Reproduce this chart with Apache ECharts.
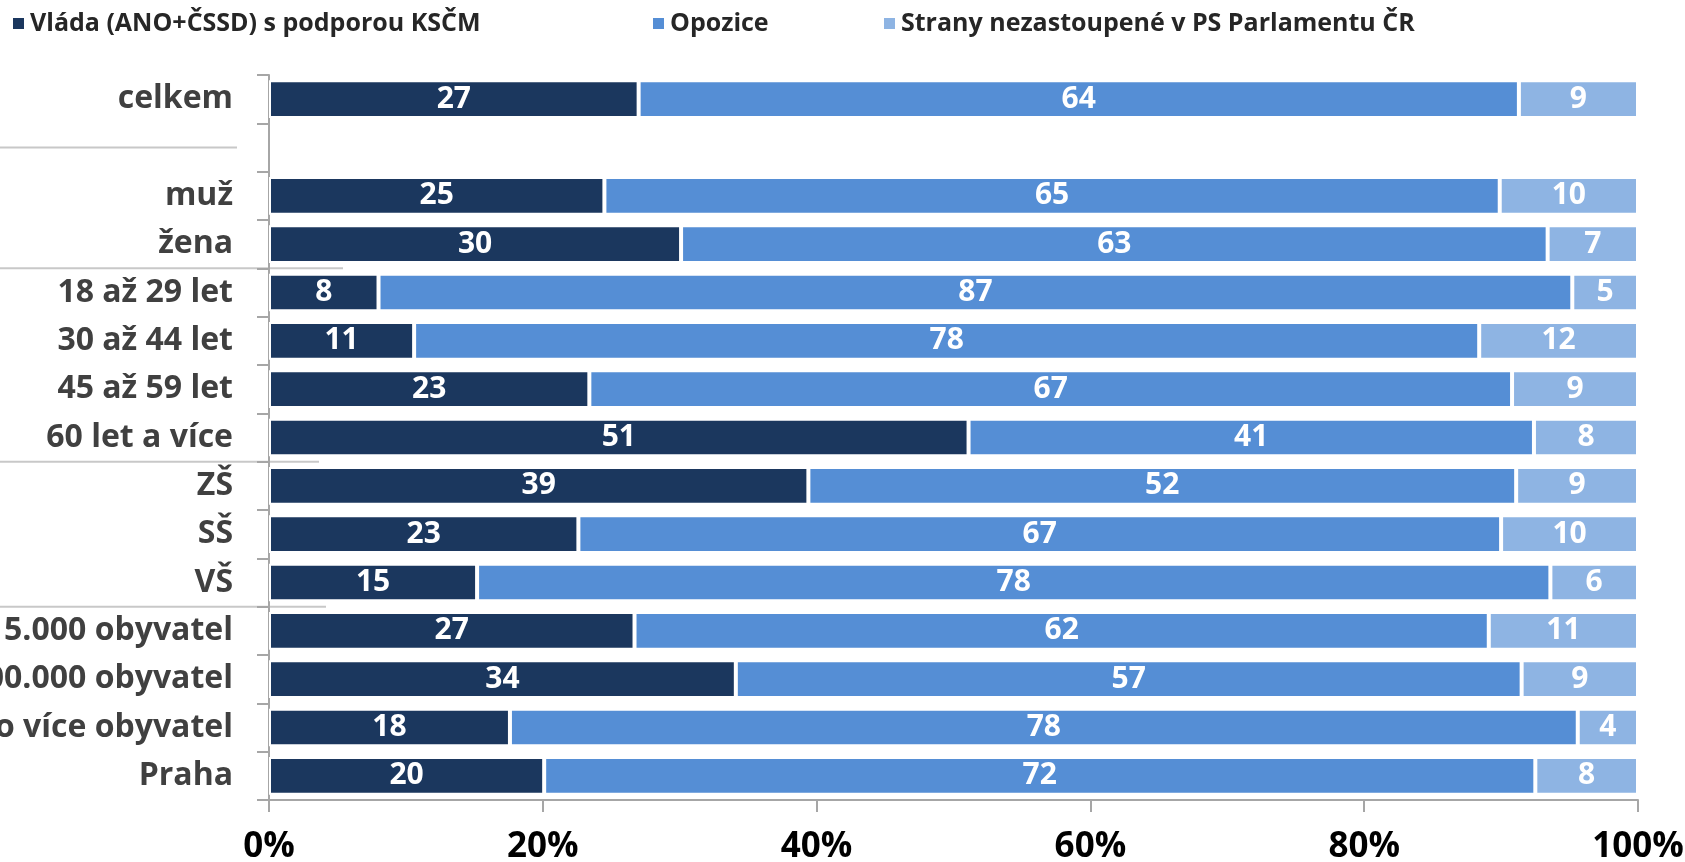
<!DOCTYPE html>
<html>
<head>
<meta charset="utf-8">
<script src="https://cdn.jsdelivr.net/npm/echarts@6/dist/echarts.min.js"></script>
<style>
html,body{margin:0;padding:0;background:#fff;}
#chart{width:1685px;height:862px;}
</style>
</head>
<body>
<div id="chart"></div>
<script>
// ---- data ----
var categories = ['celkem', '', 'muž', 'žena', '18 až 29 let', '30 až 44 let', '45 až 59 let', '60 let a více',
  'ZŠ', 'SŠ', 'VŠ', 'do 5.000 obyvatel', '5.000 až 100.000 obyvatel', '100.000 nebo více obyvatel', 'Praha'];
var seriesNames = ['Vláda (ANO+ČSSD) s podporou KSČM', 'Opozice', 'Strany nezastoupené v PS Parlamentu ČR'];
var vlada    = [27.0, null, 24.5, 30.1, 8.0, 10.6, 23.4, 51.1, 39.4, 22.6, 15.2, 26.7, 34.1, 17.6, 20.1];
var opozice  = [64.3, null, 65.4, 63.3, 87.2, 77.8, 67.4, 41.3, 51.7, 67.4, 78.4, 62.4, 57.4, 78.0, 72.4];
var ostatni  = [8.7, null, 10.1, 6.6, 4.8, 11.6, 9.2, 7.6, 8.9, 10.0, 6.4, 10.9, 8.5, 4.4, 7.5];
var xTicks = [0, 20, 40, 60, 80, 100];
// group separators: at category center or at boundary before category index
var separators = [
  {at: 1, mode: 'center', x2: 237},
  {at: 4, mode: 'boundary', x2: 343},
  {at: 8, mode: 'boundary', x2: 319},
  {at: 11, mode: 'boundary', x2: 326}
];

var colors = ['#1b375e', '#558ed5', '#8eb4e3'];
var FONT = '"Open Sans", "Noto Sans", sans-serif';

var chart = echarts.init(document.getElementById('chart'));

function mkSeries(name, data, color) {
  return {
    name: name,
    type: 'bar',
    stack: 'total',
    data: data,
    barCategoryGap: '22%',
    itemStyle: {color: color, borderColor: '#ffffff', borderWidth: 2},
    label: {
      show: true,
      position: 'inside',
      color: '#ffffff',
      fontFamily: FONT,
      fontWeight: 'bold',
      fontSize: 30,
      formatter: function (p) { return p.value == null ? '' : String(Math.round(p.value)); }
    },
    emphasis: {disabled: true}
  };
}

function mkLegend(i, left) {
  return {
    data: [seriesNames[i]],
    left: left,
    top: 11,
    itemWidth: 13,
    itemHeight: 13,
    icon: 'rect',
    padding: 0,
    itemGap: 10,
    textStyle: {fontFamily: FONT, fontWeight: 'bold', fontSize: 25, color: '#262626'}
  };
}

var option = {
  animation: false,
  backgroundColor: '#ffffff',
  legend: [mkLegend(0, 11), mkLegend(1, 651), mkLegend(2, 882)],
  grid: {left: 269, right: 47, top: 75, bottom: 62, containLabel: false, outerBoundsMode: 'none'},
  xAxis: {
    type: 'value',
    min: 0,
    max: 100,
    interval: 20,
    axisLine: {show: true, lineStyle: {color: '#a6a6a6', width: 2}},
    axisTick: {show: true, length: 12, lineStyle: {color: '#a6a6a6', width: 2}},
    splitLine: {show: false},
    axisLabel: {
      margin: 30,
      color: '#000000',
      fontFamily: FONT,
      fontWeight: 'bold',
      fontSize: 35,
      formatter: function (v) { return xTicks.indexOf(v) >= 0 ? v + '%' : ''; }
    }
  },
  yAxis: {
    type: 'category',
    data: categories,
    inverse: true,
    axisLine: {show: true, lineStyle: {color: '#a6a6a6', width: 2}},
    axisTick: {show: true, length: 12, lineStyle: {color: '#a6a6a6', width: 2}},
    axisLabel: {
      margin: 36,
      color: '#404040',
      fontFamily: FONT,
      fontWeight: 'bold',
      fontSize: 32
    }
  },
  series: [
    mkSeries(seriesNames[0], vlada, colors[0]),
    mkSeries(seriesNames[1], opozice, colors[1]),
    mkSeries(seriesNames[2], ostatni, colors[2])
  ]
};

chart.setOption(option);

// draw group separator lines using the axis scale
var els = separators.map(function (s) {
  var y;
  if (s.mode === 'center') {
    y = chart.convertToPixel({yAxisIndex: 0}, s.at);
  } else {
    var a = chart.convertToPixel({yAxisIndex: 0}, s.at - 1);
    var b = chart.convertToPixel({yAxisIndex: 0}, s.at);
    y = (a + b) / 2;
  }
  return {
    type: 'line',
    shape: {x1: 0, y1: y, x2: s.x2, y2: y},
    style: {stroke: '#c8c8c8', lineWidth: 2},
    z: 0,
    silent: true
  };
});
chart.setOption({graphic: els});
</script>
</body>
</html>
